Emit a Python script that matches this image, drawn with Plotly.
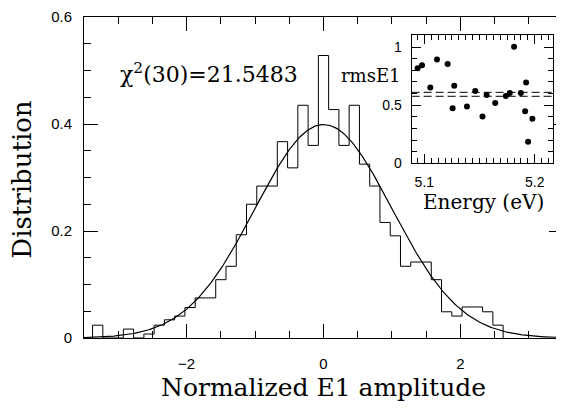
import numpy as np
import plotly.graph_objects as go

# ---- data ----
bin_width = 0.15
bin_centers = [-3.3, -3.15, -3.0, -2.85, -2.7, -2.55, -2.4, -2.25, -2.1, -1.95,
               -1.8, -1.65, -1.5, -1.35, -1.2, -1.05, -0.9, -0.75, -0.6, -0.45,
               -0.3, -0.15, 0.0, 0.15, 0.3, 0.45, 0.6, 0.75, 0.9, 1.05,
               1.2, 1.35, 1.5, 1.65, 1.8, 1.95, 2.1, 2.25, 2.4, 2.55]
density = [0.024, 0.0, 0.0, 0.0167, 0.0, 0.0074, 0.024, 0.034, 0.041, 0.057,
           0.075, 0.075, 0.109, 0.134, 0.193, 0.25, 0.284, 0.284, 0.367, 0.318,
           0.435, 0.36, 0.528, 0.427, 0.36, 0.435, 0.325, 0.284, 0.216, 0.191,
           0.134, 0.142, 0.142, 0.109, 0.049, 0.041, 0.058, 0.058, 0.049, 0.024]

energy_eV = [5.0939, 5.0979, 5.1054, 5.1115, 5.1211, 5.1271, 5.1256, 5.1386, 5.1461, 5.1527,
             5.1564, 5.1642, 5.1738, 5.1774, 5.1813, 5.1874, 5.1913, 5.1922, 5.1940, 5.1979]
rms_E1 = [0.818, 0.843, 0.653, 0.894, 0.855, 0.668, 0.474, 0.489, 0.622, 0.404,
          0.588, 0.520, 0.579, 0.605, 1.003, 0.605, 0.449, 0.696, 0.185, 0.383]
rms_ref_lines = [0.611, 0.577]

chi2_label = "χ<sup>2</sup>(30)=21.5483"

# ---- build figure ----
serif = "DejaVu Serif"
sans = "Liberation Sans"

edges = [c - bin_width / 2 for c in bin_centers] + [bin_centers[-1] + bin_width / 2]
step_x = [edges[0]] + edges
step_y = [0.0] + density + [0.0]

xg = np.linspace(-3.5, 3.5, 400)
gauss = np.exp(-xg ** 2 / 2) / np.sqrt(2 * np.pi)

fig = go.Figure()
fig.add_trace(go.Scatter(x=step_x, y=step_y, mode="lines", line_shape="hv",
                         line=dict(color="black", width=1), showlegend=False))
fig.add_trace(go.Scatter(x=xg, y=gauss, mode="lines",
                         line=dict(color="black", width=1.2), showlegend=False))

x2_range = [5.0885, 5.2165]
for v in rms_ref_lines:
    fig.add_trace(go.Scatter(x=x2_range, y=[v, v], mode="lines", xaxis="x2", yaxis="y2",
                             line=dict(color="black", width=1, dash="8px,4px"),
                             showlegend=False))
fig.add_trace(go.Scatter(x=energy_eV, y=rms_E1, mode="markers", xaxis="x2", yaxis="y2",
                         marker=dict(color="black", size=6), showlegend=False))

axis_common = dict(showline=True, linecolor="black", linewidth=1, mirror="ticks",
                   ticks="inside", tickcolor="black", showgrid=False, zeroline=False,
                   ticklabeloverflow="allow")

fig.update_layout(
    width=556, height=402,
    margin=dict(l=76, r=0, t=6, b=72),
    plot_bgcolor="white", paper_bgcolor="white",
    xaxis=dict(range=[-3.5, 3.5], tick0=0, dtick=2, ticklen=14, tickwidth=1,
               minor=dict(dtick=0.5, ticklen=7, ticks="inside", tickcolor="black"),
               tickfont=dict(family=sans, size=15, color="black"),
               ticklabelstandoff=12, **axis_common),
    yaxis=dict(range=[0, 0.6], tick0=0, dtick=0.2, ticklen=14, tickwidth=1,
               minor=dict(dtick=0.05, ticklen=7, ticks="inside", tickcolor="black"),
               tickfont=dict(family=sans, size=15, color="black"),
               ticklabelstandoff=8, **axis_common),
    xaxis2=dict(domain=[0.684, 0.979], anchor="y2", range=x2_range, tick0=5.1, dtick=0.1,
                ticklen=9, minor=dict(dtick=0.00625, ticklen=5, ticks="inside", tickcolor="black"),
                tickfont=dict(family=sans, size=14, color="black"),
                ticklabelstandoff=6, **axis_common),
    yaxis2=dict(domain=[0.544, 0.945], anchor="x2", range=[0, 1.107], tick0=0, dtick=0.5,
                ticklen=9, minor=dict(dtick=0.1, ticklen=5, ticks="inside", tickcolor="black"),
                tickfont=dict(family=sans, size=14, color="black"),
                ticklabelstandoff=6, **axis_common),
    annotations=[
        dict(text=chi2_label, x=0.0708, y=0.827, xref="paper", yref="paper",
             xanchor="left", yanchor="middle", showarrow=False,
             font=dict(family=serif, size=22, color="black")),
        dict(text="Normalized E1 amplitude", x=0.499, y=-0.155, xref="paper", yref="paper",
             xanchor="center", yanchor="middle", showarrow=False,
             font=dict(family=serif, size=25, color="black")),
        dict(text="Distribution", x=-0.129, y=0.494, xref="paper", yref="paper",
             xanchor="center", yanchor="middle", textangle=-90, showarrow=False,
             font=dict(family=serif, size=26, color="black")),
        dict(text="Energy (eV)", x=0.835, y=0.423, xref="paper", yref="paper",
             xanchor="center", yanchor="middle", showarrow=False,
             font=dict(family=serif, size=20, color="black")),
        dict(text="rmsE1", x=0.6, y=0.818, xref="paper", yref="paper",
             xanchor="center", yanchor="middle", showarrow=False,
             font=dict(family=serif, size=18, color="black")),
    ],
)

fig.write_html("out.html")
